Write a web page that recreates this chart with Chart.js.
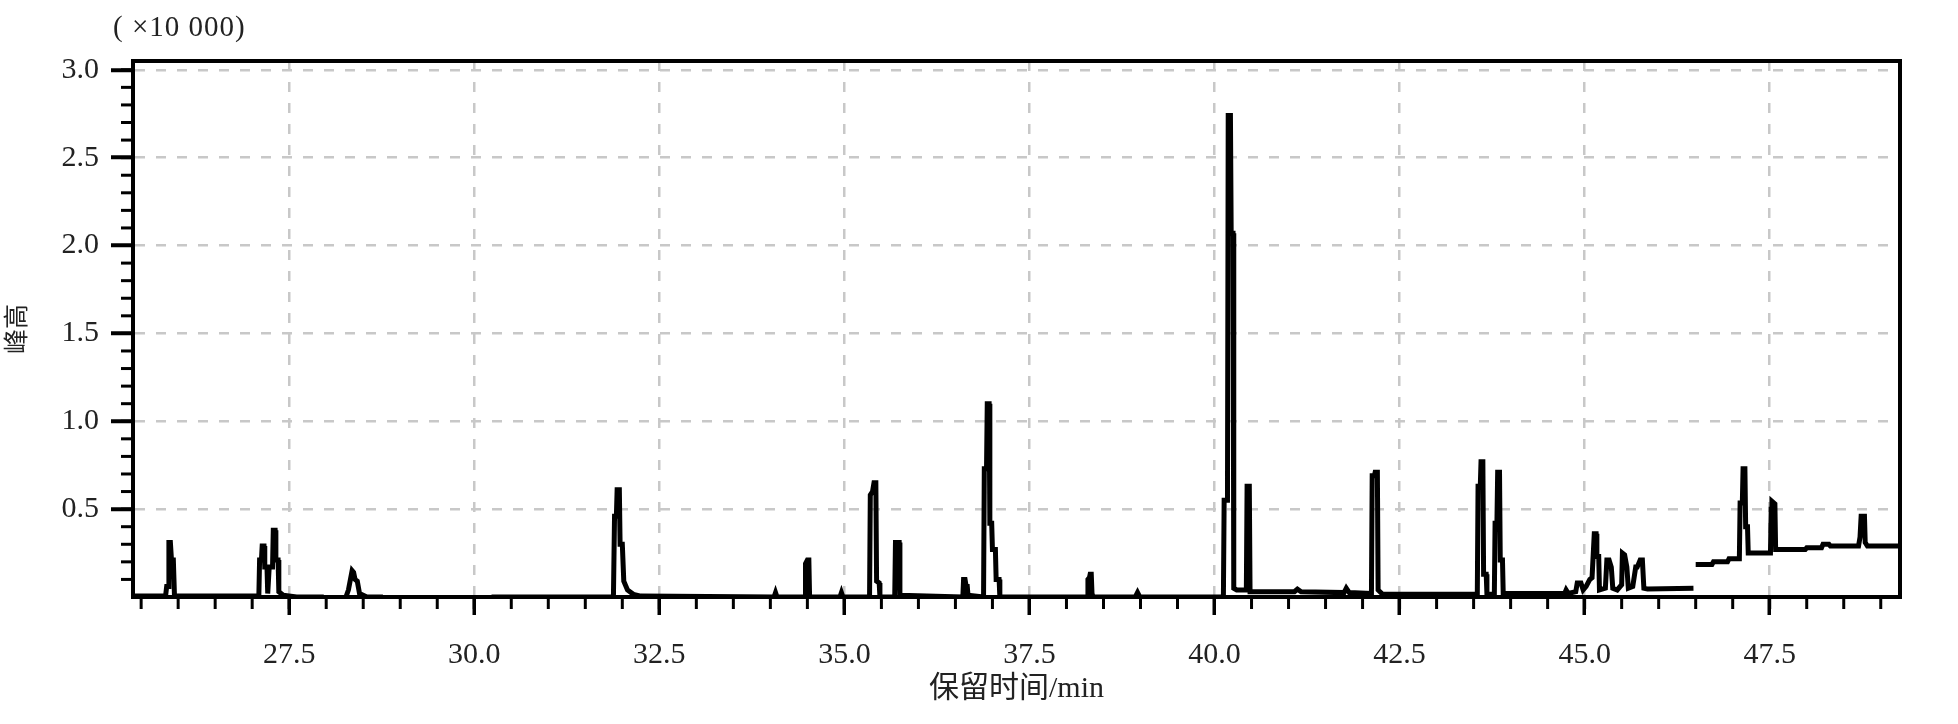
<!DOCTYPE html>
<html>
<head>
<meta charset="utf-8">
<script src="https://cdn.jsdelivr.net/npm/chart.js@4/dist/chart.umd.min.js"></script>
<style>
  body { margin: 0; background: #fff; }
</style>
</head>
<body>
<canvas id="gcChart" width="1958" height="724"></canvas>
<script>
//retention time (min) and peak height (x10 000), main trace up to 46.5 min
var traceTime = [
    25.39, 25.83, 25.845, 25.865, 25.875, 25.895, 25.91, 25.935, 25.95, 26.0,
    27.09, 27.10, 27.125, 27.135, 27.16, 27.17, 27.20, 27.21, 27.23, 27.275, 27.285, 27.31, 27.32, 27.35, 27.36, 27.42,
    27.6, 27.95, 28.0, 28.25, 28.3, 28.35, 28.37, 28.39, 28.42, 28.45, 28.55, 28.75, 28.8, 30.2, 30.25,
    31.88, 31.895, 31.92, 31.93, 31.96, 31.97, 32.0, 32.02, 32.07, 32.15, 32.25,
    34.05, 34.07, 34.09, 34.47, 34.475, 34.5, 34.52, 34.53, 34.94, 34.96, 34.98,
    35.34, 35.35, 35.38, 35.40, 35.425, 35.435, 35.47, 35.48, 35.68, 35.69, 35.74, 35.75,
    36.6, 36.61, 36.63, 36.645, 36.66, 36.67,
    36.88, 36.89, 36.92, 36.93, 36.955, 36.965, 36.99, 37.0, 37.04, 37.05, 37.09, 37.1,
    38.28, 38.29, 38.31, 38.32, 38.335, 38.345, 38.36, 38.93, 38.96, 38.99,
    40.12, 40.13, 40.175, 40.185, 40.215, 40.225, 40.25, 40.26, 40.3, 40.43, 40.44, 40.47, 40.48,
    41.08, 41.12, 41.17, 41.75, 41.78, 41.82,
    42.12, 42.13, 42.16, 42.17, 42.2, 42.21, 42.27,
    43.55, 43.56, 43.59, 43.6, 43.625, 43.635, 43.67, 43.68, 43.78, 43.79, 43.815, 43.825, 43.85, 43.86, 43.89, 43.9,
    44.73, 44.75, 44.78, 44.88, 44.9, 44.95, 44.98, 45.02, 45.07, 45.1, 45.13, 45.155, 45.165, 45.19, 45.2,
    45.28, 45.3, 45.33, 45.36, 45.38, 45.44, 45.5, 45.51, 45.54, 45.57, 45.59, 45.65, 45.69, 45.71, 45.75,
    45.78, 45.8, 45.85, 46.47
];
var traceHeight = [
    0.005, 0.005, 0.06, 0.06, 0.31, 0.31, 0.21, 0.21, 0.01, 0.005,
    0.005, 0.21, 0.21, 0.29, 0.29, 0.17, 0.17, 0.02, 0.17, 0.17, 0.38, 0.38, 0.21, 0.21, 0.03, 0.01,
    0.0, 0.0, -0.02, -0.02, 0.04, 0.15, 0.14, 0.10, 0.09, 0.02, 0.0, 0.0, -0.02, -0.02, 0.0,
    0.0, 0.46, 0.46, 0.61, 0.61, 0.3, 0.3, 0.09, 0.04, 0.015, 0.005,
    0.0, 0.025, 0.0, 0.0, 0.19, 0.21, 0.21, 0.0, 0.0, 0.025, 0.0,
    0.0, 0.58, 0.6, 0.65, 0.65, 0.09, 0.08, 0.0, 0.0, 0.31, 0.31, 0.01,
    0.0, 0.1, 0.1, 0.06, 0.06, 0.01,
    0.0, 0.73, 0.73, 1.1, 1.1, 0.42, 0.42, 0.27, 0.27, 0.1, 0.1, 0.0,
    0.0, 0.1, 0.11, 0.13, 0.13, 0.02, 0.0, 0.0, 0.025, 0.0,
    0.0, 0.55, 0.55, 2.74, 2.74, 2.07, 2.07, 0.05, 0.04, 0.04, 0.63, 0.63, 0.03,
    0.03, 0.045, 0.03, 0.025, 0.05, 0.025,
    0.02, 0.69, 0.69, 0.71, 0.71, 0.04, 0.015,
    0.015, 0.63, 0.63, 0.77, 0.77, 0.13, 0.13, 0.015, 0.015, 0.42, 0.42, 0.71, 0.71, 0.21, 0.21, 0.02,
    0.02, 0.04, 0.02, 0.03, 0.08, 0.08, 0.04, 0.06, 0.1, 0.11, 0.36, 0.36, 0.23, 0.23, 0.04,
    0.05, 0.21, 0.21, 0.17, 0.05, 0.04, 0.07, 0.25, 0.24, 0.17, 0.05, 0.06, 0.17, 0.17, 0.21,
    0.21, 0.05, 0.045, 0.05
];

//raised baseline after the break at 46.5 min
var driftTime = [
    46.5, 46.72, 46.74, 46.93, 46.95, 47.09, 47.1, 47.13, 47.14, 47.165, 47.175, 47.2, 47.21,
    47.51, 47.52, 47.53, 47.57, 47.58, 47.98, 48.0, 48.2, 48.22, 48.3, 48.32,
    48.7, 48.72, 48.735, 48.78, 48.79, 48.82, 49.26
];
var driftHeight = [
    0.185, 0.185, 0.2, 0.2, 0.217, 0.217, 0.535, 0.535, 0.73, 0.73, 0.4, 0.4, 0.25,
    0.25, 0.5, 0.545, 0.53, 0.27, 0.27, 0.28, 0.28, 0.3, 0.3, 0.29,
    0.29, 0.34, 0.46, 0.46, 0.31, 0.29, 0.29
];

//tick labels
var xTickLabels = [27.5, 30.0, 32.5, 35.0, 37.5, 40.0, 42.5, 45.0, 47.5];
var yTickLabels = [0.5, 1.0, 1.5, 2.0, 2.5, 3.0];

//pairs up two arrays into {x, y} points
function toPoints(xs, ys) {
    var pts = [];
    for (var i = 0; i < xs.length; i++) {
        pts.push({ x: xs[i], y: ys[i] });
    }
    return pts;
}

//draws the minor ticks, the box round the plot and the unit note
var framePlugin = {
    id: 'frame',
    afterDraw: function(chart) {
        var ctx = chart.ctx;
        var a = chart.chartArea;
        var xs = chart.scales.x;
        var ys = chart.scales.y;
        ctx.save();
        ctx.strokeStyle = '#000';
        ctx.lineWidth = 3;
        for (var i = 51; i <= 98; i++) {
            var px = xs.getPixelForValue(i / 2);
            ctx.beginPath();
            ctx.moveTo(px, a.bottom);
            ctx.lineTo(px, a.bottom + 12);
            ctx.stroke();
        }
        for (var j = 1; j <= 30; j++) {
            var py = ys.getPixelForValue(j / 10);
            ctx.beginPath();
            ctx.moveTo(a.left - 12, py);
            ctx.lineTo(a.left, py);
            ctx.stroke();
        }
        ctx.lineWidth = 4;
        ctx.strokeRect(a.left, a.top, a.right - a.left, a.bottom - a.top);

        ctx.fillStyle = '#222';
        ctx.font = '29px "Liberation Serif"';
        ctx.letterSpacing = '1px';
        ctx.textBaseline = 'middle';
        ctx.fillText('( ×10 000)', a.left - 20, a.top - 33);
        ctx.restore();
    }
};

var tickFont = { family: '"Liberation Serif", "Times New Roman", serif', size: 30 };

var ctx = document.getElementById('gcChart').getContext('2d');
var gcChart = new Chart(ctx, {
    type: 'line',
    data: {
        datasets: [{
            data: toPoints(traceTime, traceHeight),
            borderColor: '#000',
            borderWidth: 5,
            pointRadius: 0,
            tension: 0
        }, {
            data: toPoints(driftTime, driftHeight),
            borderColor: '#000',
            borderWidth: 5,
            pointRadius: 0,
            tension: 0
        }]
    },
    options: {
        responsive: false,
        animation: false,
        layout: { padding: { top: 61, right: 58, left: 0, bottom: 0 } },
        plugins: {
            legend: { display: false },
            tooltip: { enabled: false }
        },
        scales: {
            x: {
                type: 'linear',
                min: 25.39,
                max: 49.26,
                afterFit: function(scale) { scale.height = 127; },
                afterBuildTicks: function(scale) {
                    scale.ticks = xTickLabels.map(function(v) { return { value: v }; });
                },
                ticks: {
                    color: '#222',
                    font: tickFont,
                    padding: 22,
                    maxRotation: 0,
                    callback: function(v) { return Number(v).toFixed(1); }
                },
                grid: {
                    color: '#c8c8c8',
                    lineWidth: 2.5,
                    tickColor: '#000',
                    tickWidth: 3.5,
                    tickLength: 18
                },
                border: { display: true, color: '#000', width: 4, dash: [10, 11] },
                title: {
                    display: true,
                    text: '保留时间/min',
                    color: '#222',
                    font: { family: '"Liberation Serif", "Noto Sans CJK SC"', size: 30 },
                    padding: { top: 0, bottom: 17 }
                }
            },
            y: {
                min: 0,
                max: 3.05,
                afterFit: function(scale) { scale.width = 133; },
                afterBuildTicks: function(scale) {
                    scale.ticks = yTickLabels.map(function(v) { return { value: v }; });
                },
                ticks: {
                    color: '#222',
                    font: tickFont,
                    padding: 12,
                    callback: function(v) { return Number(v).toFixed(1); }
                },
                grid: {
                    color: '#c8c8c8',
                    lineWidth: 2.5,
                    tickColor: '#000',
                    tickWidth: 4,
                    tickLength: 22
                },
                border: { display: true, color: '#000', width: 4, dash: [10, 11] },
                title: {
                    display: true,
                    text: '峰高',
                    color: '#222',
                    font: { family: '"Noto Sans CJK SC"', size: 25 },
                    padding: 0
                }
            }
        }
    },
    plugins: [framePlugin]
});
</script>
</body>
</html>
